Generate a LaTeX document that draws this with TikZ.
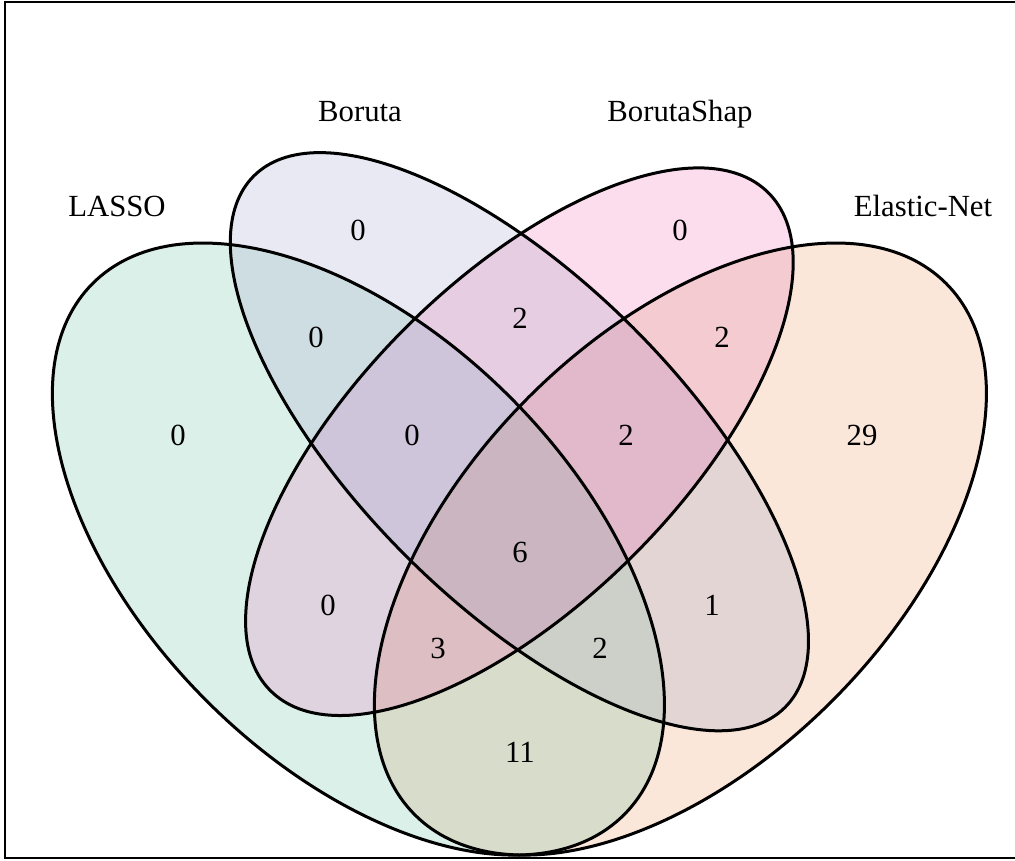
\documentclass[tikz,border=0pt]{standalone}
\usepackage{fontspec}
\setmainfont{Liberation Serif}

% region colours
\definecolor{cL}{HTML}{DBF0E9}
\definecolor{cB}{HTML}{E9E9F3}
\definecolor{cS}{HTML}{FCDDEE}
\definecolor{cE}{HTML}{FAE7DA}
\definecolor{cLB}{HTML}{CEDDE2}
\definecolor{cBS}{HTML}{E6CDE2}
\definecolor{cSE}{HTML}{F3CBD0}
\definecolor{cLS}{HTML}{DED3DE}
\definecolor{cBE}{HTML}{E3D5D3}
\definecolor{cLE}{HTML}{D8DCCA}
\definecolor{cLBS}{HTML}{CEC5DB}
\definecolor{cBSE}{HTML}{E2B9CA}
\definecolor{cLSE}{HTML}{DCBEC3}
\definecolor{cLBE}{HTML}{CDD0C8}
\definecolor{cLBSE}{HTML}{CBB5C0}

% the four set ellipses (unit-square coordinates)
\newcommand\clipL{\clip[rotate around={-45:(0.35,0.47)}] (0.35,0.47) ellipse [x radius=0.35, y radius=0.2];}
\newcommand\clipB{\clip[rotate around={-45:(0.5,0.57)}] (0.5,0.57) ellipse [x radius=0.35, y radius=0.15];}
\newcommand\clipS{\clip[rotate around={45:(0.5,0.57)}] (0.5,0.57) ellipse [x radius=0.328, y radius=0.15];}
\newcommand\clipE{\clip[rotate around={45:(0.65,0.47)}] (0.65,0.47) ellipse [x radius=0.35, y radius=0.2];}
\newcommand\pathL[1]{\path[#1, rotate around={-45:(0.35,0.47)}] (0.35,0.47) ellipse [x radius=0.35, y radius=0.2];}
\newcommand\pathB[1]{\path[#1, rotate around={-45:(0.5,0.57)}] (0.5,0.57) ellipse [x radius=0.35, y radius=0.15];}
\newcommand\pathS[1]{\path[#1, rotate around={45:(0.5,0.57)}] (0.5,0.57) ellipse [x radius=0.328, y radius=0.15];}
\newcommand\pathE[1]{\path[#1, rotate around={45:(0.65,0.47)}] (0.65,0.47) ellipse [x radius=0.35, y radius=0.2];}

\begin{document}
\begin{tikzpicture}[x=0.02cm, y=0.02cm,
  lbl/.style={font=\fontsize{17.5}{21}\selectfont, anchor=base, inner sep=0pt},
  outline/.style={draw=black, line width=0.06cm}]
\useasboundingbox (0,0) rectangle (1015,861);

\begin{scope}[shift={(-0.346cm,-3.852cm)}, x=21.472cm, y=21.472cm]
  % single sets
  \pathL{fill=cL}
  \pathB{fill=cB}
  \pathS{fill=cS}
  \pathE{fill=cE}
  % pairs
  \begin{scope}\clipL \pathB{fill=cLB}\end{scope}
  \begin{scope}\clipL \pathS{fill=cLS}\end{scope}
  \begin{scope}\clipL \pathE{fill=cLE}\end{scope}
  \begin{scope}\clipB \pathS{fill=cBS}\end{scope}
  \begin{scope}\clipB \pathE{fill=cBE}\end{scope}
  \begin{scope}\clipS \pathE{fill=cSE}\end{scope}
  % triples
  \begin{scope}\clipL \clipB \pathS{fill=cLBS}\end{scope}
  \begin{scope}\clipL \clipB \pathE{fill=cLBE}\end{scope}
  \begin{scope}\clipL \clipS \pathE{fill=cLSE}\end{scope}
  \begin{scope}\clipB \clipS \pathE{fill=cBSE}\end{scope}
  % all four
  \begin{scope}\clipL \clipB \clipS \pathE{fill=cLBSE}\end{scope}
  % outlines
  \pathL{outline}
  \pathB{outline}
  \pathS{outline}
  \pathE{outline}
\end{scope}

% frame (open on the right)
\draw[line width=0.04cm] (1016,859) -- (5,859) -- (5,3) -- (1016,3);

% set names
\node[lbl] (nL) at (117,644) {LASSO};
\node[lbl] (nB) at (360,739) {Boruta};
\node[lbl] (nS) at (680,739) {BorutaShap};
\node[lbl] (nE) at (923,644) {Elastic-Net};

% region counts
\node[lbl] (rL)    at (178,415) {0};
\node[lbl] (rB)    at (358,620) {0};
\node[lbl] (rS)    at (680,620) {0};
\node[lbl] (rE)    at (862,415) {29};
\node[lbl] (rLB)   at (316,513) {0};
\node[lbl] (rBS)   at (520,532) {2};
\node[lbl] (rSE)   at (722,513) {2};
\node[lbl] (rLS)   at (328,245) {0};
\node[lbl] (rBE)   at (712,245) {1};
\node[lbl] (rLE)   at (520,98)  {11};
\node[lbl] (rLBS)  at (412,415) {0};
\node[lbl] (rBSE)  at (626,415) {2};
\node[lbl] (rLSE)  at (438,202) {3};
\node[lbl] (rLBE)  at (600,202) {2};
\node[lbl] (rLBSE) at (520,298) {6};
\end{tikzpicture}
\end{document}
